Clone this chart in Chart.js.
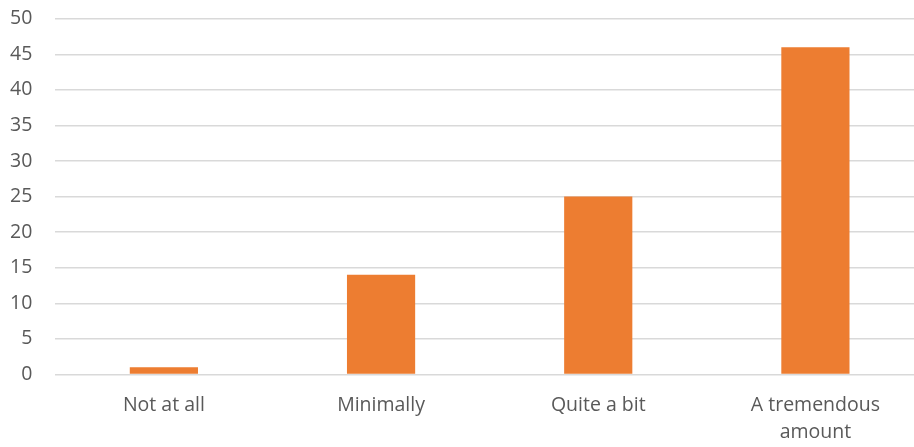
<!DOCTYPE html>
<html>
<head>
<meta charset="utf-8">
<script src="https://cdn.jsdelivr.net/npm/chart.js@4/dist/chart.umd.min.js"></script>
<style>
  html, body { margin: 0; padding: 0; background: #fff; overflow: hidden; width: 914px; height: 447px; }
  #wrap { position: absolute; left: -13px; top: -16px; width: 937px; height: 471px; }
</style>
</head>
<body>
<div id="wrap"><canvas id="chart" width="937" height="471"></canvas></div>
<script>
const categories = ['Not at all', 'Minimally', 'Quite a bit', ['A tremendous', 'amount']];
const responses = [1, 14, 25, 46];

const ctx = document.getElementById('chart').getContext('2d');
new Chart(ctx, {
  type: 'bar',
  data: {
    labels: categories,
    datasets: [{
      label: 'Responses',
      data: responses,
      backgroundColor: '#ED7D31',
      borderWidth: 0,
      barPercentage: 0.314,
      categoryPercentage: 1,
    }],
  },
  options: {
    responsive: false,
    animation: false,
    layout: { padding: 0 },
    plugins: {
      legend: { display: false },
      tooltip: { enabled: false },
    },
    scales: {
      x: {
        grid: { display: false },
        border: { display: false },
        ticks: {
          color: '#595959',
          font: { family: 'Open Sans', size: 19.5, lineHeight: 1.4 },
          maxRotation: 0,
          padding: 9,
        },
      },
      y: {
        min: 0,
        max: 50,
        ticks: {
          stepSize: 5,
          color: '#595959',
          font: { family: 'Open Sans', size: 19.5 },
          padding: 23,
        },
        grid: { color: '#D9D9D9', lineWidth: 1.5, drawTicks: false },
        border: { display: false },
      },
    },
  },
});
</script>
</body>
</html>
